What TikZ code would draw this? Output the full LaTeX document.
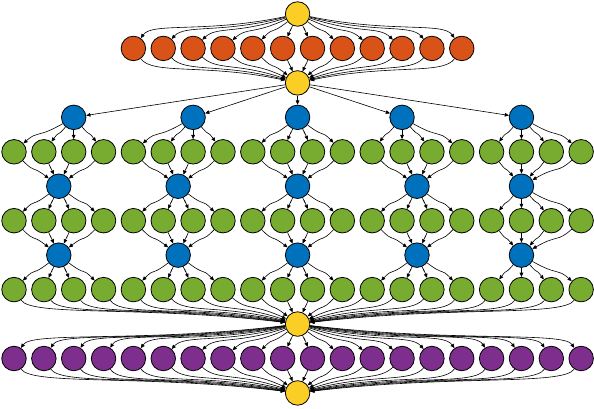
\documentclass[tikz,border=0pt]{standalone}
\usetikzlibrary{arrows.meta,backgrounds}
\definecolor{hubyellow}{RGB}{250,206,36}
\definecolor{rowred}{RGB}{217,83,25}
\definecolor{boxblue}{RGB}{0,114,189}
\definecolor{leafgreen}{RGB}{119,172,48}
\definecolor{leafpurple}{RGB}{126,47,142}
\tikzset{
  dot/.style={circle,draw=black,line width=0.8pt,minimum size=24.5pt,inner sep=0pt},
  edge/.style={line width=0.6pt,-{Triangle[length=4.2pt,width=3.6pt]}},
}
% shared numbers for one edge; #1 = horizontal offset in columns
\newcommand\edgesetup[1]{%
  \pgfmathsetmacro\edgeang{atan2(-34.45,29.85*(#1))}%
  \pgfmathsetmacro\chord{veclen(29.85*(#1),34.45)}%
  \pgfmathsetmacro\blend{min(0.6,0.1*abs(#1))}%
  \pgfmathsetmacro\hubdist{max(0.5*abs(29.85*(#1)),0.33*\chord)}%
  \pgfmathsetmacro\leafdist{min(20,0.33*\chord)}}
% hub above, leaf below; #3 = leaf column minus hub column
\newcommand\fanout[3]{%
  \edgesetup{#3}%
  \pgfmathsetmacro\leafang{\edgeang+180+\blend*(-90-\edgeang)}%
  \draw[edge] (#1) to[out=\edgeang,in=\leafang,out distance=\hubdist pt,in distance=\leafdist pt] (#2);}
% leaf above, hub below; #3 = hub column minus leaf column
\newcommand\fanin[3]{%
  \edgesetup{#3}%
  \pgfmathsetmacro\leafang{\edgeang+\blend*(-90-\edgeang)}%
  \pgfmathsetmacro\hubang{\edgeang+180}%
  \draw[edge] (#1) to[out=\leafang,in=\hubang,out distance=\leafdist pt,in distance=\hubdist pt] (#2);}
\begin{document}
\begin{tikzpicture}[x=29.85pt,y=34.45pt]
\useasboundingbox (-0.469,0.406) rectangle (19.43,-11.437);
% yellow hubs
\node[dot,fill=hubyellow] (y1) at (9.5,0) {};
\node[dot,fill=hubyellow] (y2) at (9.5,-2) {};
\node[dot,fill=hubyellow] (y3) at (9.5,-9) {};
\node[dot,fill=hubyellow] (y4) at (9.5,-11) {};
% orange row
\foreach \col in {4,...,15}
  \node[dot,fill=rowred] (o\col) at (\col,-1) {};
% blue nodes
\foreach \g/\tc in {1/2,2/6,3/9.5,4/13,5/17}
  \node[dot,fill=boxblue] (t\g) at (\tc,-3) {};
\foreach \g/\mc in {1/1.5,2/5.5,3/9.5,4/13.5,5/17}{
  \node[dot,fill=boxblue] (m\g) at (\mc,-5) {};
  \node[dot,fill=boxblue] (n\g) at (\mc,-7) {};
}
% green rows and purple row
\foreach \col in {0,...,19}{
  \node[dot,fill=leafgreen] (ga\col) at (\col,-4) {};
  \node[dot,fill=leafgreen] (gb\col) at (\col,-6) {};
  \node[dot,fill=leafgreen] (gc\col) at (\col,-8) {};
  \node[dot,fill=leafpurple] (p\col) at (\col,-10) {};
}
\begin{pgfonlayer}{background}
\foreach \col in {4,...,15}{
  \fanout{y1}{o\col}{\col-9.5}
  \fanin{o\col}{y2}{9.5-\col}
}
\foreach \g in {1,...,5}
  \draw[edge] (y2) -- (t\g);
\foreach \g/\tc/\mc in {1/2/1.5,2/6/5.5,3/9.5/9.5,4/13/13.5,5/17/17}{
  \foreach \k in {0,...,3}{
    \pgfmathtruncatemacro\col{4*(\g-1)+\k}
    \fanout{t\g}{ga\col}{\col-\tc}
    \fanin{ga\col}{m\g}{\mc-\col}
    \fanout{m\g}{gb\col}{\col-\mc}
    \fanin{gb\col}{n\g}{\mc-\col}
    \fanout{n\g}{gc\col}{\col-\mc}
  }
}
\foreach \col in {0,...,19}{
  \fanin{gc\col}{y3}{9.5-\col}
  \fanout{y3}{p\col}{\col-9.5}
  \fanin{p\col}{y4}{9.5-\col}
}
\end{pgfonlayer}
\end{tikzpicture}
\end{document}
